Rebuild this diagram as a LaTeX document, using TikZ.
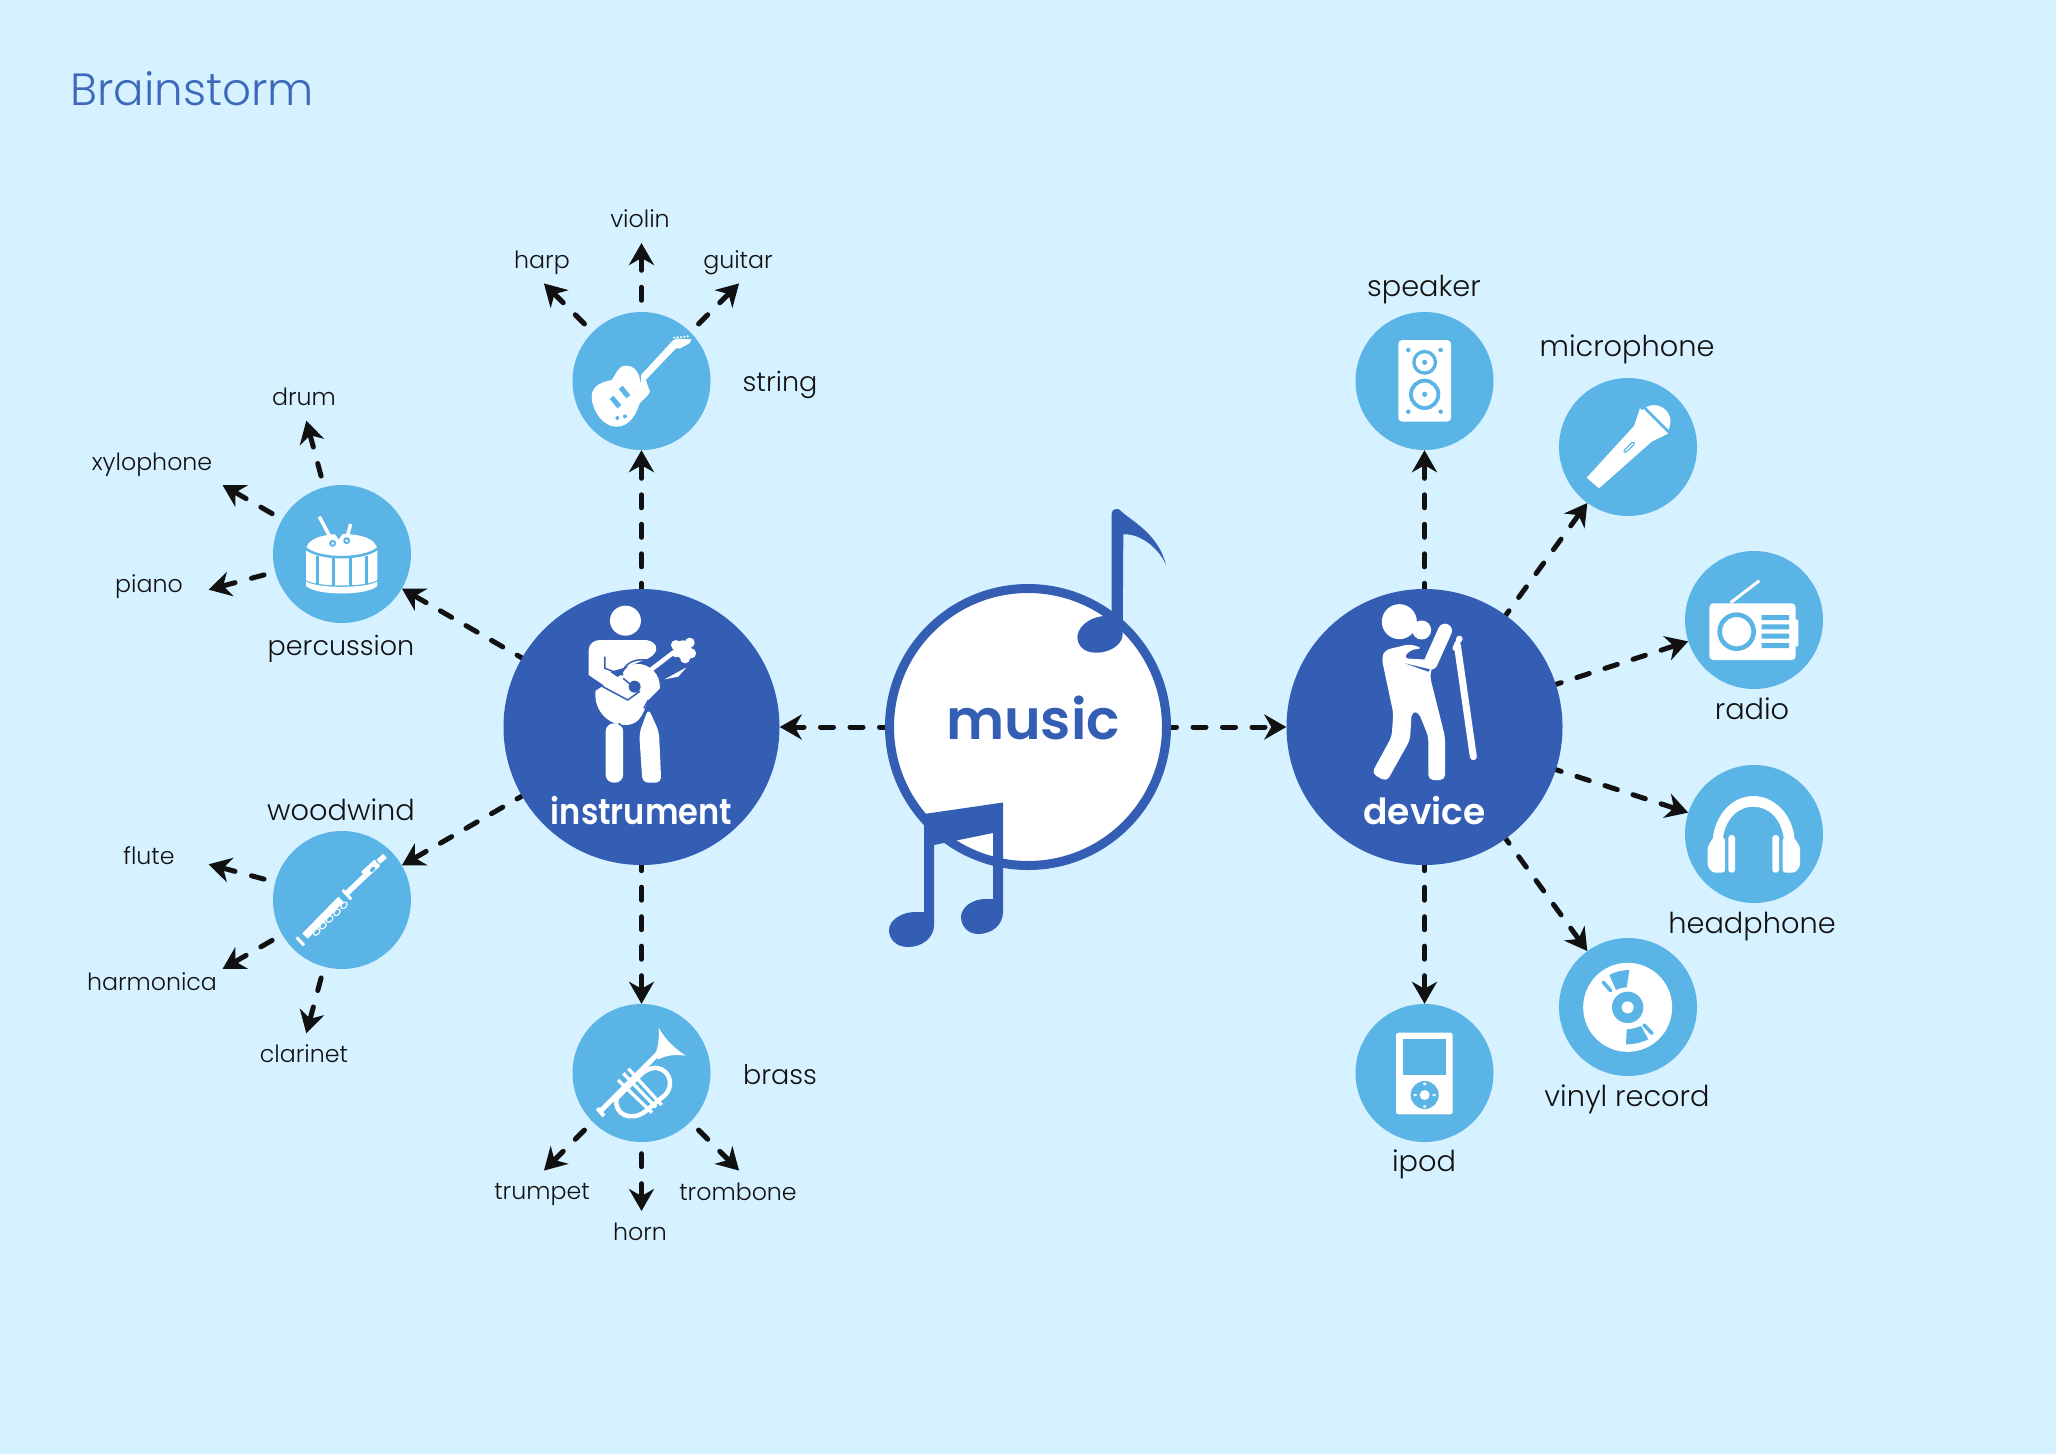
\documentclass[tikz,border=0pt]{standalone}
\usepackage{fontspec}
\setmainfont{Poppins}[UprightFont=* Light,BoldFont=* SemiBold]
\usetikzlibrary{arrows.meta}
\definecolor{bgc}{HTML}{D6F1FF}
\definecolor{dk}{HTML}{345EB4}
\definecolor{lt}{HTML}{5BB4E6}
\definecolor{ink}{HTML}{111111}
\definecolor{ttl}{HTML}{3C69BA}
\pgfdeclarelayer{paper}
\pgfdeclarelayer{conn}
\pgfdeclarelayer{disc}
\pgfsetlayers{paper,conn,disc,main}
\tikzset{
  x=1pt,y=-1pt,
  bigdisc/.style={circle,fill=dk,draw=none,minimum size=276pt,inner sep=0pt},
  smalldisc/.style={circle,fill=lt,draw=none,minimum size=138pt,inner sep=0pt},
  musicdisc/.style={circle,fill=white,draw=dk,line width=9pt,minimum size=277pt,inner sep=0pt},
  lab/.style={anchor=base,text=ink,inner sep=0pt,font=\fontsize{23.7}{25}\selectfont},
  lablarge/.style={anchor=base,text=ink,inner sep=0pt,font=\fontsize{28.8}{29}\selectfont},
  labtight/.style={anchor=base,text=ink,inner sep=0pt,font=\fontsize{27}{29}\selectfont},
  hub/.style={anchor=base,text=white,inner sep=0pt,font=\bfseries\fontsize{36}{37}\selectfont},
  mainlink/.style={draw=ink,line width=5pt,line cap=round,dash pattern=on 13pt off 16.5pt,dash phase=7.5pt,-{Stealth[length=22pt,width=25pt,inset=7pt]}},
  leaflink/.style={draw=ink,line width=5pt,line cap=round,dash pattern=on 13pt off 17pt,shorten <=11.5pt,-{Stealth[length=22pt,width=25pt,inset=7pt]}},
  zm/.style 2 args={shift={(#1,#2)},x=0.33333pt,y=-0.33333pt},
}
\newcommand{\tipat}[3]{\coordinate (#1) at ([shift={(#3:138pt)}]#2.center);}
\newcommand{\leafto}[3]{\tipat{#1}{#2}{#3}\begin{pgfonlayer}{conn}\draw[leaflink] (#2) -- (#1);\end{pgfonlayer}}
\begin{document}
\begin{tikzpicture}
\useasboundingbox (0,0) rectangle (2056,1454);
\begin{pgfonlayer}{paper}
\fill[bgc] (0,0) rectangle (2056,1454);
\end{pgfonlayer}

\node[anchor=base west,text=ttl,inner sep=0pt,font=\fontsize{45.2}{48}\selectfont] (title) at (70,105) {Brainstorm};

% discs
\begin{pgfonlayer}{disc}
\node[bigdisc] (instrument) at (641.5,727) {};
\node[bigdisc] (device) at (1424.5,727) {};
\node[musicdisc] (music) at (1028,727) {};
\node[smalldisc] (string) at (641.5,381) {};
\node[smalldisc] (percussion) at (342,554) {};
\node[smalldisc] (woodwind) at (342,900) {};
\node[smalldisc] (brass) at (641.5,1073) {};
\node[smalldisc] (speaker) at (1424.5,381) {};
\node[smalldisc] (microphone) at (1628,447) {};
\node[smalldisc] (radio) at (1754,620) {};
\node[smalldisc] (headphone) at (1754,834) {};
\node[smalldisc] (vinyl) at (1628,1007) {};
\node[smalldisc] (ipod) at (1424.5,1073) {};
\end{pgfonlayer}

% main links
\begin{pgfonlayer}{conn}
\draw[mainlink] (music) -- (instrument);
\draw[mainlink] (music) -- (device);
\draw[mainlink] (instrument) -- (string);
\draw[mainlink] (instrument) -- (percussion);
\draw[mainlink] (instrument) -- (woodwind);
\draw[mainlink] (instrument) -- (brass);
\draw[mainlink] (device) -- (speaker);
\draw[mainlink] (device) -- (microphone);
\draw[mainlink] (device) -- (radio);
\draw[mainlink] (device) -- (headphone);
\draw[mainlink] (device) -- (vinyl);
\draw[mainlink] (device) -- (ipod);
\end{pgfonlayer}

% leaf links
\leafto{tviolin}{string}{90}
\leafto{tharp}{string}{135}
\leafto{tguitar}{string}{45}
\leafto{tdrum}{percussion}{105}
\leafto{txylo}{percussion}{150}
\leafto{tpiano}{percussion}{195}
\leafto{tflute}{woodwind}{165}
\leafto{tharm}{woodwind}{210}
\leafto{tclar}{woodwind}{255}
\leafto{ttrumpet}{brass}{225}
\leafto{thorn}{brass}{270}
\leafto{ttrombone}{brass}{315}

% labels
\node[lab] (lviolin) at (640,227) {violin};
\node[lab] (lharp) at (542,268) {harp};
\node[lab] (lguitar) at (738,268) {guitar};
\node[labtight] (lstring) at (780,391) {string};
\node[lab] (ldrum) at (304,405) {drum};
\node[lab] (lxylo) at (152,470) {xylophone};
\node[lab] (lpiano) at (149,592) {piano};
\node[labtight] (lperc) at (341,655) {percussion};
\node[lablarge] (lwood) at (341,820) {woodwind};
\node[lab] (lflute) at (149,864) {flute};
\node[lab] (lharm) at (152,990) {harmonica};
\node[lab] (lclar) at (304,1062) {clarinet};
\node[lab] (ltrumpet) at (542,1199) {trumpet};
\node[lab] (lhorn) at (640,1240) {horn};
\node[lab] (ltrombone) at (738,1200) {trombone};
\node[labtight] (lbrass) at (780,1084) {brass};
\node[lablarge] (lspeaker) at (1424,296) {speaker};
\node[lablarge] (lmic) at (1627,356) {microphone};
\node[lablarge] (lradio) at (1752,719) {radio};
\node[lablarge] (lhead) at (1752,933) {headphone};
\node[lablarge] (lvinyl) at (1627,1106) {vinyl record};
\node[lablarge] (lipod) at (1424,1171) {ipod};

\node[hub] (linstr) at (641.5,824) {\scalebox{0.89}[1]{instrument}};
\node[hub] (ldevice) at (1424.5,824) {device};
\node[anchor=base,text=dk,inner sep=0pt,font=\bfseries\fontsize{55.5}{58}\selectfont] (lmusic) at (1033,739) {music};

% notes
\begin{scope}[zm={1060}{495}]
\fill[dk] (155,350) -- (155,55) .. controls (155,42) and (175,35) .. (185,50) .. controls (210,75) and (295,115) .. (318,210) .. controls (300,165) and (245,115) .. (190,118) -- (188,420) .. controls (185,455) and (140,475) .. (105,473) .. controls (70,472) and (52,450) .. (52,425) .. controls (55,385) and (110,355) .. (155,365) -- cycle;
\end{scope}
\fill[dk] (924,814) -- (1003,802.5) -- (1003,912) .. controls (1003,925) and (992,934) .. (978,934) .. controls (968,934) and (961,926) .. (961,917) .. controls (961,907) and (973,899) .. (985,899) -- (993,899) -- (993,833) -- (934,845) -- (934,925) .. controls (934,938) and (922,947) .. (908,947) .. controls (896,947) and (889,939) .. (889,930) .. controls (889,920) and (902,912) .. (915,912) -- (924,912) -- cycle;

% --- icons
% guitar
\begin{scope}[zm={480}{180}]
\fill[white] (483,612) -- (483,585) -- (578,482) -- (590,476) -- (635,478) -- (628,490) -- (600,505) -- (588,505) -- (497,600) -- (510,635) .. controls (505,650) and (485,660) .. (478,672) .. controls (470,700) and (450,740) .. (410,740) .. controls (370,742) and (335,690) .. (335,650) .. controls (335,615) and (370,605) .. (395,600) .. controls (410,580) and (415,557) .. (437,557) .. controls (465,557) and (478,580) .. (480,600) -- cycle;
\draw[lt,line width=5pt] (395,652) -- (418,680) (422,622) -- (445,650);
\fill[lt] (412,714) circle[radius=2pt] (435,709) circle[radius=2pt];
\fill[white] (583,473) circle[radius=1.2pt] (593,472) circle[radius=1.2pt] (603,471) circle[radius=1.2pt] (613,470) circle[radius=1.2pt] (623,469) circle[radius=1.2pt];
\end{scope}
% drum
\begin{scope}[zm={260}{480}]
\fill[white] (138,212) -- (138,300) .. controls (170,322) and (320,322) .. (352,300) -- (352,212) .. controls (352,175) and (300,162) .. (245,162) .. controls (190,162) and (138,175) .. (138,212) -- cycle;
\draw[lt,line width=2.5pt] (138,206) .. controls (180,240) and (310,240) .. (352,206);
\draw[lt,line width=3pt] (173,228) -- (173,312) (220,235) -- (220,322) (270,235) -- (270,322) (318,228) -- (318,312);
\fill[white] (138,304) .. controls (170,326) and (320,326) .. (352,304) -- (352,318) .. controls (320,348) and (170,348) .. (138,318) -- cycle;
\fill[lt] (222,158) -- (250,158) -- (236,178) -- cycle;
\draw[white,line width=3.5pt] (178,110) -- (215,180) (272,132) -- (260,175);
\fill[white] (218,190) circle[radius=7pt] (260,182) circle[radius=7pt];
\fill[lt] (218,190) circle[radius=3.5pt] (260,182) circle[radius=3.5pt];
\fill[white] (218,190) circle[radius=1.5pt] (260,182) circle[radius=1.5pt];
\end{scope}
% flute
\begin{scope}[zm={260}{820}]
\draw[white,line width=7.5pt] (135,348) -- (243,238);
\draw[white,line width=3pt] (110,352) -- (132,376);
\draw[white,line width=3pt] (248,210) -- (274,238);
\draw[white,line width=5.5pt] (258,222) -- (315,168);
\draw[white,line width=8.5pt] (312,165) -- (352,128);
\draw[white,line width=5.5pt] (355,125) -- (375,108);
\foreach \p in {(170,336),(189,317),(209,297),(231,277),(252,256)}
  {\fill[white,rotate around={45:\p}] \p ellipse[x radius=4.4pt,y radius=3.2pt];
   \fill[lt,rotate around={45:\p}] \p ellipse[x radius=3pt,y radius=1.9pt];}
\fill[lt,rotate around={45:(338,148)}] (338,148) ellipse[x radius=3.2pt,y radius=2pt];
\end{scope}
% trumpet
\begin{scope}[zm={560}{990}]
\fill[white] (296,113) .. controls (320,155) and (345,175) .. (377,197) .. controls (345,193) and (320,195) .. (295,208) -- (285,195) .. controls (295,170) and (298,140) .. (296,113) -- cycle;
\draw[white,line width=5pt] (295,190) -- (120,365);
\draw[white,line width=4pt] (112,355) -- (132,378);
\draw[white,line width=4.5pt,line join=round] (275,235) .. controls (320,225) and (350,280) .. (315,315) -- (255,365) .. controls (215,395) and (160,375) .. (170,325) -- (225,270) .. controls (245,250) and (255,240) .. (275,235);
\draw[white,line width=3.3pt] (205,236) -- (305,345) (190,250) -- (288,352) (174,270) -- (276,368);
\end{scope}
% speaker
\begin{scope}[zm={1340}{300}]
\fill[white,rounded corners=4pt] (175,120) rectangle (333,365);
\fill[lt] (205,150) circle[radius=2.3pt] (302,150) circle[radius=2.3pt] (205,335) circle[radius=2.3pt] (302,335) circle[radius=2.3pt];
\draw[lt,line width=3.3pt] (254,187) circle[radius=10.8pt];
\draw[lt,line width=3.8pt] (254,283) circle[radius=13.7pt];
\fill[lt] (254,187) circle[radius=2.6pt] (254,283) circle[radius=2.6pt];
% microphone
\fill[white] (740,533) -- (882,378) -- (900,325) -- (985,400) -- (935,425) -- (777,565) -- cycle;
\fill[white] (942,365) circle[radius=16.5pt];
\draw[lt,line width=2.6pt] (912,322) -- (985,395);
\draw[lt,line width=3.8pt,line cap=round] (855,454) -- (880,430);
\draw[white,line width=1.2pt,line cap=round] (856,453) -- (879,431);
% radio
\draw[white,line width=3pt] (1172,908) -- (1258,842);
\fill[white,rounded corners=4pt] (1108,910) rectangle (1367,1080);
\fill[white,rounded corners=2pt] (1360,958) rectangle (1375,1040);
\draw[lt,line width=4.6pt] (1190,995) circle[radius=17pt];
\fill[lt] (1265,945) rectangle (1347,960) (1265,973) rectangle (1347,988) (1265,1001) rectangle (1347,1016) (1265,1029) rectangle (1347,1044);
\end{scope}
% headphone, vinyl, ipod
\begin{scope}[zm={1340}{760}]
\fill[white] (1118,240) .. controls (1125,160) and (1180,108) .. (1240,108) .. controls (1300,108) and (1358,160) .. (1364,240) -- (1332,240) .. controls (1325,175) and (1285,140) .. (1240,140) .. controls (1195,140) and (1155,175) .. (1148,240) -- cycle;
\fill[white,rounded corners=3pt] (1120,232) -- (1155,232) -- (1155,338) -- (1118,338) -- (1103,320) -- (1103,260) -- cycle;
\fill[white,rounded corners=3pt] (1362,232) -- (1328,232) -- (1328,338) -- (1365,338) -- (1380,320) -- (1380,260) -- cycle;
\fill[white,rounded corners=3pt] (1165,225) rectangle (1185,338);
\fill[white,rounded corners=3pt] (1297,225) rectangle (1317,338);
% vinyl
\fill[white] (863,742) circle[radius=44.5pt];
\fill[lt] (863,742) circle[radius=15.7pt];
\fill[white] (863,742) circle[radius=6pt];
\fill[lt] (808,645) .. controls (825,635) and (848,630) .. (868,630) -- (860,682) .. controls (850,682) and (838,685) .. (828,690) -- cycle;
\fill[lt] (860,808) .. controls (875,808) and (890,803) .. (903,798) -- (925,838) .. controls (905,848) and (880,853) .. (858,853) -- cycle;
\draw[lt,line width=3.6pt,line cap=round] (790,667) -- (812,692) (912,795) -- (936,820);
% ipod
\fill[white,rounded corners=2.5pt] (168,818) rectangle (338,1063);
\fill[lt] (190,838) rectangle (318,945);
\fill[lt] (254,1005) circle[radius=14pt];
\fill[white] (254,1005) circle[radius=5pt];
\fill[white] (250,968) rectangle (258,975) (250,1036) rectangle (258,1043) (221,1002) rectangle (230,1008) (278,1002) rectangle (287,1008);
\end{scope}
% singer
\begin{scope}[zm={1270}{570}]
\fill[white] (388,155) circle[radius=17.5pt];
\fill[white] (455,180) circle[radius=9.5pt];
\draw[white,line width=14pt,line cap=round] (525,182) -- (482,278);
\fill[white,rounded corners=5pt] (345,240) -- (420,222) -- (458,235) -- (420,240) -- (400,265) -- (490,270) -- (480,320) -- (525,500) -- (525,630) -- (475,630) -- (475,500) -- (445,425) -- (425,425) -- (420,510) -- (350,635) -- (305,610) -- (365,500) -- (370,430) -- (335,265) -- cycle;
\fill[dk] (405,280) -- (480,298) -- (475,305) -- cycle;
\draw[white,line width=7pt,line cap=round] (562,225) -- (610,560);
\fill[white] (568,207) circle[radius=3.3pt];
\draw[white,line width=5pt,line cap=round] (555,235) -- (568,207);
\end{scope}
% guitarist
\begin{scope}[shift={(490,560)},x=0.45914pt,y=-0.33333pt]
\fill[white] (295,182) ellipse[x radius=15.5pt,y radius=15pt];
\fill[white] (240,240) -- (340,240) .. controls (365,245) and (372,275) .. (345,295) -- (300,320) -- (250,340) -- (215,345) -- (215,270) .. controls (215,250) and (228,240) .. (240,240) -- cycle;
\fill[white,rounded corners=8pt] (252,490) rectangle (290,668);
\fill[white,rounded corners=6pt] (325,520) -- (345,445) -- (368,515) -- (373,668) -- (332,668) -- cycle;
\fill[white] (230,392) .. controls (225,440) and (250,495) .. (295,495) .. controls (330,495) and (335,450) .. (345,420) -- (370,385) .. controls (372,340) and (345,310) .. (320,312) .. controls (300,312) and (290,335) .. (285,345) -- cycle;
\draw[dk,line width=1.5pt] (250,290) -- (250,325) -- (290,345) (340,300) .. controls (310,295) and (290,315) .. (287,345) (345,420) -- (335,445) (280,490) -- (290,500);
\fill[white] (215,345) -- (255,330) -- (325,395) -- (295,420) -- cycle;
\draw[dk,line width=1.5pt] (232,370) -- (300,420) -- (325,395) -- (290,355);
\fill[dk] (315,380) circle[radius=6pt];
\draw[white,line width=4.5pt] (345,335) -- (405,272);
\fill[white] (420,268) circle[radius=9pt] (405,255) circle[radius=5pt] (435,248) circle[radius=5pt] (438,280) circle[radius=5pt] (425,295) circle[radius=5pt] (405,280) circle[radius=4pt];
\fill[white] (380,358) -- (428,322) -- (410,350) -- cycle;
\end{scope}
\end{tikzpicture}
\end{document}
